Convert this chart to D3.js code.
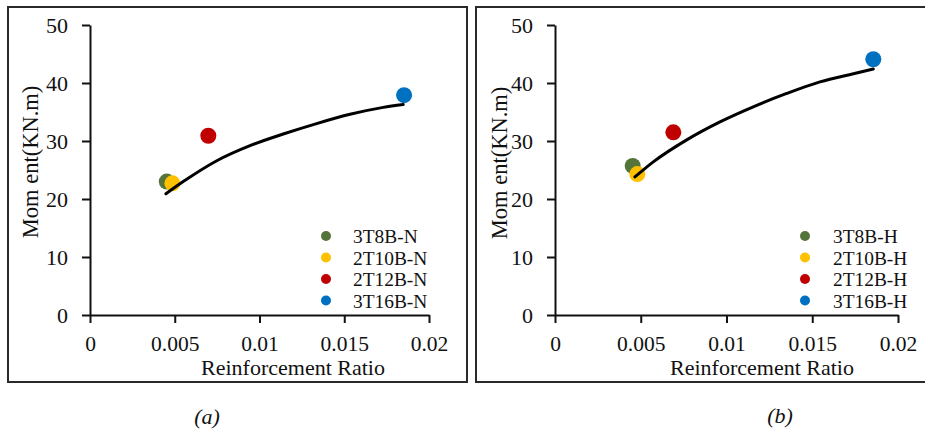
<!DOCTYPE html>
<html>
<head>
<meta charset="utf-8">
<title>Moment vs Reinforcement Ratio</title>
<script src="https://cdn.jsdelivr.net/npm/d3@7"></script>
<style>
  body { margin: 0; background: #fff; }
  .axis path, .axis line { stroke: #111; stroke-width: 2px; }
</style>
</head>
<body>
<script>
// tick values / labels
var xTicks = [0, 0.005, 0.01, 0.015, 0.02];
var xTickLabels = ["0", "0.005", "0.01", "0.015", "0.02"];
var yTicks = [0, 10, 20, 30, 40, 50];
var colors = ["#55743a", "#ffc000", "#c00000", "#0070c0"];

// panel (a): N specimens
var namesN = ["3T8B-N", "2T10B-N", "2T12B-N", "3T16B-N"];
var ratioN = [0.00453, 0.00486, 0.00698, 0.01853];
var momentN = [23.0, 22.7, 30.9, 37.9];
var curveNx = [0.00448, 0.0055, 0.00748, 0.00944, 0.0114, 0.01337, 0.01534, 0.0173, 0.01848];
var curveNy = [20.9, 23.0, 26.6, 29.2, 31.2, 33.0, 34.6, 35.8, 36.3];

// panel (b): H specimens
var namesH = ["3T8B-H", "2T10B-H", "2T12B-H", "3T16B-H"];
var ratioH = [0.00453, 0.0048, 0.0069, 0.01856];
var momentH = [25.7, 24.3, 31.5, 44.1];
var curveHx = [0.00466, 0.00573, 0.00768, 0.00962, 0.01156, 0.01351, 0.01545, 0.0174, 0.01856];
var curveHy = [23.8, 26.4, 30.2, 33.3, 35.9, 38.2, 40.2, 41.6, 42.4];

var FONT = "'Liberation Serif', 'Times New Roman', Times, serif";

var svg = d3.select("body").append("svg")
    .attr("width", 925)
    .attr("height", 434)
    .style("font-family", FONT);

var panels = [
    { box: [8, 7, 459, 375], x0: 90, x1: 429, names: namesN, rx: ratioN, ry: momentN,
      cx: curveNx, cy: curveNy, yTitle: [38, 162], xTitle: [293, 375], leg: [326, 353], cap: [207, 424], capText: "(a)" },
    { box: [476, 7, 460, 375], x0: 555, x1: 898, names: namesH, rx: ratioH, ry: momentH,
      cx: curveHx, cy: curveHy, yTitle: [507, 163], xTitle: [762, 375], leg: [805, 833], cap: [780, 423], capText: "(b)" }
];

var y = d3.scaleLinear().domain([0, 50]).range([315, 25]);

panels.forEach(function (p) {
    var g = svg.append("g");

    g.append("rect")
        .attr("x", p.box[0]).attr("y", p.box[1])
        .attr("width", p.box[2]).attr("height", p.box[3])
        .attr("fill", "none")
        .attr("stroke", "#2a2a2a")
        .attr("stroke-width", 2);

    var x = d3.scaleLinear().domain([0, 0.02]).range([p.x0, p.x1]);

    // axes
    var xa = g.append("g")
        .attr("class", "axis")
        .attr("transform", "translate(0,315)")
        .call(d3.axisBottom(x).tickValues(xTicks).tickSize(8).tickSizeOuter(0).tickPadding(12.5)
            .tickFormat(function (d, i) { return xTickLabels[i]; }));
    xa.attr("font-family", FONT);
    xa.selectAll("text").style("font-family", FONT).style("font-size", "21.5px").attr("fill", "#111");

    var ya = g.append("g")
        .attr("class", "axis")
        .attr("transform", "translate(" + p.x0 + ",0)")
        .call(d3.axisLeft(y).tickValues(yTicks).tickSize(8).tickSizeOuter(0).tickPadding(14));
    ya.attr("font-family", FONT);
    ya.selectAll("text").style("font-family", FONT).style("font-size", "22px").attr("fill", "#111");

    // titles
    g.append("text")
        .attr("transform", "translate(" + p.yTitle[0] + "," + p.yTitle[1] + ") rotate(-90)")
        .attr("text-anchor", "middle")
        .style("font-family", FONT)
        .style("font-size", "22.5px")
        .attr("fill", "#111")
        .text("Mom ent(KN.m)");

    g.append("text")
        .attr("x", p.xTitle[0]).attr("y", p.xTitle[1])
        .attr("text-anchor", "middle")
        .style("font-family", FONT)
        .style("font-size", "22px")
        .attr("fill", "#111")
        .text("Reinforcement Ratio");

    // points
    g.selectAll(".pt")
        .data(p.names)
        .enter().append("circle")
        .attr("class", "pt")
        .attr("cx", function (d, i) { return x(p.rx[i]); })
        .attr("cy", function (d, i) { return y(p.ry[i]); })
        .attr("r", 8)
        .attr("fill", function (d, i) { return colors[i]; });

    // trend curve
    var line = d3.line()
        .x(function (d) { return x(d[0]); })
        .y(function (d) { return y(d[1]); })
        .curve(d3.curveMonotoneX);

    g.append("path")
        .datum(d3.zip(p.cx, p.cy))
        .attr("d", line)
        .attr("fill", "none")
        .attr("stroke", "#000")
        .attr("stroke-width", 3)
        .attr("stroke-linecap", "round");

    // legend
    var leg = g.selectAll(".leg")
        .data(p.names)
        .enter().append("g")
        .attr("class", "leg")
        .attr("transform", function (d, i) { return "translate(0," + (236 + i * 21.5) + ")"; });

    leg.append("circle")
        .attr("cx", p.leg[0])
        .attr("r", 5)
        .attr("fill", function (d, i) { return colors[i]; });

    leg.append("text")
        .attr("x", p.leg[1])
        .attr("y", 7)
        .style("font-family", FONT)
        .style("font-size", "19.4px")
        .attr("textLength", null)
        .attr("fill", "#111")
        .text(function (d) { return d; });

    // caption
    g.append("text")
        .attr("x", p.cap[0]).attr("y", p.cap[1])
        .attr("text-anchor", "middle")
        .style("font-family", FONT)
        .style("font-size", "22px")
        .style("font-style", "italic")
        .attr("fill", "#111")
        .text(p.capText);
});
</script>
</body>
</html>
